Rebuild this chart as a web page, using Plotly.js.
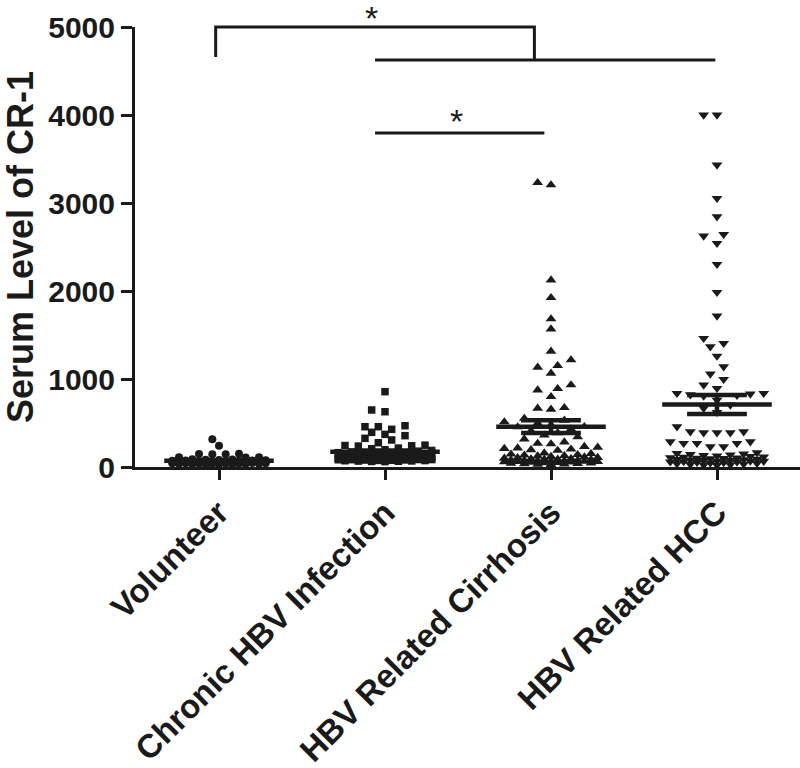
<!DOCTYPE html>
<html><head><meta charset="utf-8">
<script src="https://cdn.plot.ly/plotly-3.0.1.min.js"></script>
<style>html,body{margin:0;padding:0;background:#fff;}</style>
</head><body><div id="chart" style="width:800px;height:768px;"></div>
<script>
const categories = ["Volunteer", "Chronic HBV Infection", "HBV Related Cirrhosis", "HBV Related HCC"];
const yTicks = [0, 1000, 2000, 3000, 4000, 5000];

const volunteer = [315, 242, 150, 148, 146, 144, 112, 110, 108,
  88, 84, 81, 79, 77, 74, 73, 70, 69, 67, 66, 63, 61, 60, 60, 58, 57, 57, 55, 54,
  53, 52, 51, 50, 49, 49, 48, 47, 46, 45, 44, 43, 42, 41, 40, 39, 38, 37, 36, 35,
  33, 32, 31, 30, 62, 68, 71, 56, 52];

const chronicHBV = [856, 648, 628, 469, 458, 458, 428, 394, 371, 356, 326, 307, 276, 248, 244, 241, 238,
  215, 208, 196, 188, 180, 172, 163, 155,
  138, 135, 131, 128, 126, 124, 121, 119, 117, 115, 113, 111, 110, 108, 106, 105, 104, 102, 101, 100,
  99, 98, 97, 96, 95, 94, 93, 92, 91, 90, 89, 88, 87, 86, 85, 84, 83, 82, 80, 79,
  77, 75, 73, 71, 69, 67, 65, 63, 61, 104, 97, 109, 92, 118, 86];

const cirrhosis = [3231, 3205, 2125, 1924, 1682, 1568, 1314, 1216, 1151, 1133, 1064, 932, 890, 875, 799, 674, 667, 656, 458,
  552, 530, 512, 498, 476, 455, 431, 410, 388, 362, 341, 318,
  284, 268, 262,
  232, 224, 215, 209, 203, 196, 188,
  158, 151, 146, 140, 134, 129, 124, 118, 113, 108, 104, 99, 95, 91, 87, 84, 80, 77, 74, 71,
  68, 65, 62, 59, 56, 53, 50, 47, 44, 41, 38, 35, 32, 29, 26, 72, 88, 61];

const hcc = [4000, 4000, 3432, 3053, 2845, 2644, 2625, 2542, 2303, 1985, 1716, 1462, 1405, 1367, 1261, 1140, 1057, 997, 932, 894, 837, 837, 830,
  815, 808, 822, 760, 705, 668, 622,
  458, 401, 401, 390, 390, 390,
  288, 288, 269, 269, 269, 231, 231,
  162, 155, 149, 143, 138, 132, 127, 121, 116, 112, 107, 103, 98, 94, 90, 86, 82, 78, 74, 70,
  66, 62, 58, 54, 50, 46, 42, 38, 34, 30, 27, 24, 21, 85, 101, 67, 59];

// significance brackets (x in category units, y in data units) and stars
const sigPaths = [
  {x: [-0.02, -0.02, 1.9, 1.9], y: [4660, 5000, 5000, 4625]},
  {x: [0.94, 2.99], y: [4625, 4625]},
  {x: [0.94, 1.96], y: [3795, 3795]}
];
const sigStars = [{x: 0.92, y: 5100, text: "*"}, {x: 1.43, y: 3930, text: "*"}];

const groups = [volunteer, chronicHBV, cirrhosis, hcc];
const symbols = ["circle", "square", "triangle-up", "triangle-down"];
const sizes = [8, 7.5, 9.5, 9.5];

const W = 800, H = 768, M = {l: 135, r: 0, t: 27, b: 301};
const xRange = [-0.506, 3.5], yRange = [0, 5000];
const pxPerX = (W - M.l - M.r) / (xRange[1] - xRange[0]);
const pxPerY = (H - M.t - M.b) / (yRange[1] - yRange[0]);
const INK = "#1a1a1a";
const FONT = "Liberation Sans, Arial, Helvetica, sans-serif";

function swarmOffsets(vals, sizePx, maxHalfPx) {
  const halfStep = 6.67;
  const maxK = Math.floor(maxHalfPx / halfStep);
  const order = vals.map((v, i) => i).sort((a, b) => vals[a] - vals[b]);
  const cands = [0];
  for (let k = 1; k <= maxK; k++) cands.push(-k, k);
  const placed = [];
  const off = new Array(vals.length).fill(0);
  order.forEach(i => {
    const y = vals[i] * pxPerY;
    let best = 0, bestD = -1;
    for (const k of cands) {
      const x = k * halfStep;
      let d = Infinity;
      for (const p of placed) {
        const dy = p.y - y;
        if (Math.abs(dy) >= sizePx) continue;
        const dd = Math.hypot(p.x - x, dy);
        if (dd < d) d = dd;
      }
      if (d >= sizePx) { best = k; bestD = d; break; }
      if (d > bestD) { bestD = d; best = k; }
    }
    placed.push({x: best * halfStep, y});
    off[i] = best * halfStep / pxPerX;
  });
  return off;
}

const traces = [];
const shapes = [];
groups.forEach((vals, gi) => {
  const off = swarmOffsets(vals, sizes[gi] + 0.5, 53);
  traces.push({
    type: "scatter", mode: "markers",
    x: vals.map((v, i) => gi + off[i]), y: vals,
    marker: {symbol: symbols[gi], size: sizes[gi], color: INK, line: {width: 0}},
    cliponaxis: false, showlegend: false, hoverinfo: "y"
  });
  const n = vals.length;
  const mean = vals.reduce((a, b) => a + b, 0) / n;
  const sd = Math.sqrt(vals.reduce((a, b) => a + (b - mean) ** 2, 0) / (n - 1));
  const sem = sd / Math.sqrt(n);
  const ln = {color: INK, width: 4.5};
  shapes.push({type: "line", xref: "x", yref: "y", x0: gi - 0.33, x1: gi + 0.33, y0: mean, y1: mean, line: ln, layer: "above"});
  shapes.push({type: "line", xref: "x", yref: "y", x0: gi - 0.18, x1: gi + 0.18, y0: mean + sem, y1: mean + sem, line: ln, layer: "above"});
  shapes.push({type: "line", xref: "x", yref: "y", x0: gi - 0.18, x1: gi + 0.18, y0: mean - sem, y1: mean - sem, line: ln, layer: "above"});
  shapes.push({type: "line", xref: "x", yref: "y", x0: gi, x1: gi, y0: mean - sem, y1: mean + sem, line: ln, layer: "above"});
});

const toPaper = v => (v - yRange[0]) / (yRange[1] - yRange[0]);
sigPaths.forEach(p => {
  const d = p.x.map((xv, i) => (i ? "L" : "M") + xv + "," + toPaper(p.y[i])).join(" ");
  shapes.push({type: "path", xref: "x", yref: "paper", path: d, line: {color: INK, width: 3}, layer: "above"});
});
const annotations = sigStars.map(s => ({
  xref: "x", yref: "paper", x: s.x, y: toPaper(s.y), text: s.text, showarrow: false,
  xanchor: "center", yanchor: "middle", font: {family: FONT, size: 34, color: INK}
}));

const layout = {
  width: W, height: H, margin: M, paper_bgcolor: "#fff", plot_bgcolor: "#fff",
  showlegend: false,
  font: {family: FONT, color: INK},
  xaxis: {
    range: xRange, tickvals: [0, 1, 2, 3], ticktext: categories, tickangle: -45,
    ticks: "outside", ticklen: 10, tickwidth: 3, tickcolor: INK,
    showline: true, linewidth: 3, linecolor: INK, showgrid: false, zeroline: false,
    tickfont: {family: FONT, size: 33, color: INK, weight: "bold"}, automargin: false, fixedrange: true
  },
  yaxis: {
    range: yRange, tickvals: yTicks, ticktext: yTicks.map(String),
    ticks: "outside", ticklen: 11, tickwidth: 3, tickcolor: INK,
    showline: true, linewidth: 3, linecolor: INK, showgrid: false, zeroline: false,
    tickfont: {family: FONT, size: 30, color: INK, weight: "bold"},
    title: {text: "Serum Level of CR-1", font: {family: FONT, size: 36, color: INK, weight: "bold"}, standoff: 16},
    automargin: false, fixedrange: true
  },
  shapes, annotations
};
Plotly.newPlot("chart", traces, layout, {displayModeBar: false, staticPlot: true});
</script></body></html>
